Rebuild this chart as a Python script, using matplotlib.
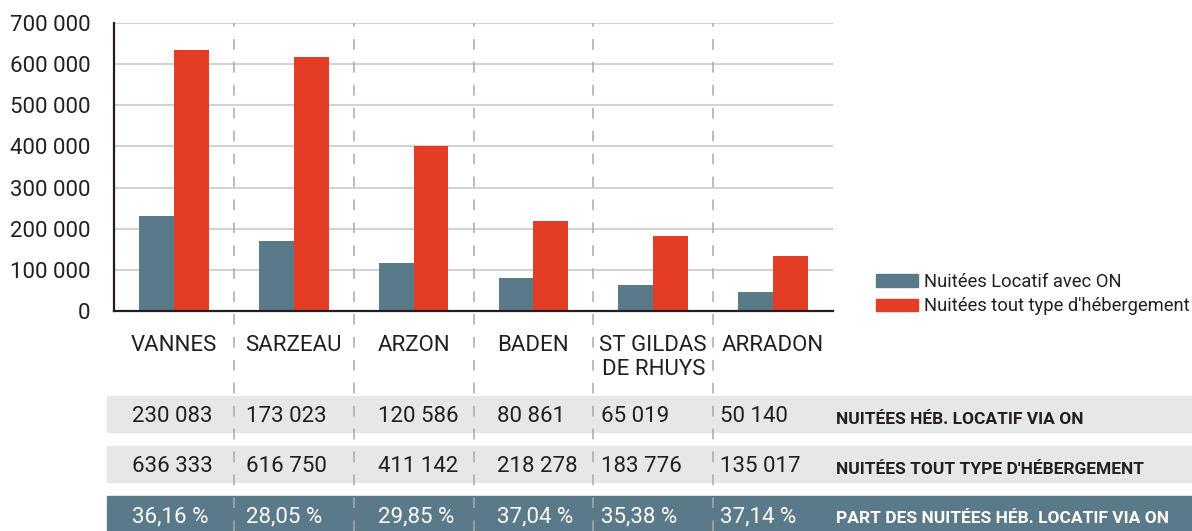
import numpy as np
import matplotlib.pyplot as plt
from matplotlib.patches import Patch, Rectangle

# données
communes = ["VANNES", "SARZEAU", "ARZON", "BADEN", "ST GILDAS\nDE RHUYS", "ARRADON"]
# hauteurs des barres
barres_locatif = [231000, 171000, 117000, 80000, 63000, 47000]
barres_total = [634000, 617000, 402000, 219000, 183000, 134000]
# valeurs du tableau
nuitees_locatif = [230083, 173023, 120586, 80861, 65019, 50140]
nuitees_total = [636333, 616750, 411142, 218278, 183776, 135017]
part_locatif = ["36,16 %", "28,05 %", "29,85 %", "37,04 %", "35,38 %", "37,14 %"]
legende = ["Nuitées Locatif avec ON", "Nuitées tout type d'hébergement"]
lignes_tableau = ["NUITÉES HÉB. LOCATIF VIA ON",
                  "NUITÉES TOUT TYPE D'HÉBERGEMENT",
                  "PART DES NUITÉES HÉB. LOCATIF VIA ON"]
yticks = np.arange(0, 700001, 100000)

BLEU = "#5B7A89"
ROUGE = "#E43D26"
GRIS = "#E6E7E8"
NOIR = "#231F20"

plt.rcParams['font.family'] = ['Roboto', 'DejaVu Sans']


def fmt(v):
    return f"{v:,}".replace(",", " ")


W, H = 1192, 531
fig = plt.figure(figsize=(W / 100, H / 100), dpi=100)

# tableau (coordonnées pixels sur toute la figure)
tab = fig.add_axes([0, 0, 1, 1], zorder=0)
tab.set_xlim(0, W)
tab.set_ylim(H, 0)
tab.axis('off')

ax = fig.add_axes([114 / W, 1 - 311 / H, (833 - 114) / W, (311 - 23) / H], zorder=1)
ax.patch.set_alpha(0)

x = np.arange(len(communes))
bw = 0.29
ax.bar(x - bw, barres_locatif, width=bw, align='edge', color=BLEU, zorder=3)
ax.bar(x, barres_total, width=bw, align='edge', color=ROUGE, zorder=3)

ax.set_xlim(-0.5, len(communes) - 0.5)
ax.set_ylim(0, 700000)
ax.set_yticks(yticks)
ax.set_yticklabels([fmt(v) for v in yticks])
ax.set_xticks(x)
ax.set_xticklabels(communes, linespacing=1.2)
ax.tick_params(axis='y', length=0, pad=17, labelsize=16, labelcolor=NOIR)
ax.tick_params(axis='x', length=0, pad=17, labelsize=16, labelcolor=NOIR)
for lbl in ax.get_xticklabels():
    lbl.set_verticalalignment('top')

ax.grid(axis='y', color='#D1D3D4', linewidth=1.5, zorder=0)
for s in ['top', 'right']:
    ax.spines[s].set_visible(False)
for s in ['left', 'bottom']:
    ax.spines[s].set_color(NOIR)
    ax.spines[s].set_linewidth(1.6)
    ax.spines[s].set_zorder(4)

# séparateurs pointillés jusqu'au bas du tableau
bas = -(H - 311) / (311 - 23)
for xs in x[:-1] + 0.5:
    ax.plot([xs, xs], [bas, 1], transform=ax.get_xaxis_transform(), clip_on=False,
            color='#A7A9AC', linewidth=1.1, linestyle=(0, (7, 8)), zorder=5)

# bandes du tableau
bandes = [(396, 432, GRIS, NOIR), (446, 482, GRIS, NOIR), (496, 531, BLEU, 'white')]
valeurs = [[fmt(v) for v in nuitees_locatif],
           [fmt(v) for v in nuitees_total],
           part_locatif]
col_x = [132, 246, 378, 497, 601, 720]
for (y0, y1, fond, coul), vals, titre in zip(bandes, valeurs, lignes_tableau):
    tab.add_patch(Rectangle((107, y0), W - 107, y1 - y0, color=fond, zorder=1))
    yc = (y0 + y1) / 2 + 3
    for cx, v in zip(col_x, vals):
        tab.text(cx, yc, v, ha='left', va='center', fontsize=16, color=coul, zorder=2)
    tab.text(836, yc + 2, titre, ha='left', va='center', fontsize=12.5, fontweight='bold',
             color=coul, zorder=2)

handles = [Patch(color=BLEU), Patch(color=ROUGE)]
fig.legend(handles, legende, loc='upper left', bbox_to_anchor=(876 / W, 1 - 273 / H),
           frameon=False, fontsize=13.2, handlelength=2.3, handleheight=0.7,
           handletextpad=0.3, labelspacing=0.35, borderpad=0, borderaxespad=0,
           labelcolor=NOIR)

fig.savefig("out.png", dpi=100)
